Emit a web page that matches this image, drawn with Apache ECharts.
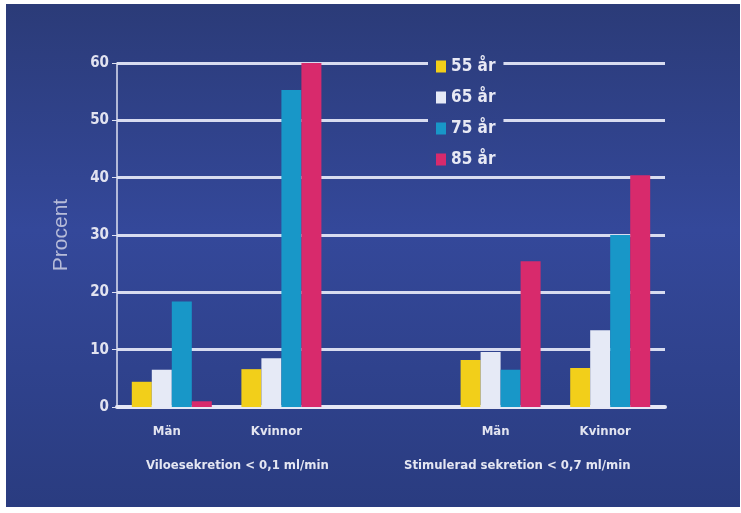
<!DOCTYPE html>
<html>
<head>
    <meta charset="utf-8">
    <title>Procent</title>
    <script src="https://cdn.jsdelivr.net/npm/echarts@6/dist/echarts.min.js"></script>
    <style>
        html, body { margin: 0; padding: 0; background: #ffffff; }
        #chart { width: 741px; height: 513px; }
    </style>
</head>
<body>
<div id="chart"></div>
<script>
    // data
    var categories = ['Män', 'Kvinnor', '', 'Män', 'Kvinnor'];
    var seriesNames = ['55 år', '65 år', '75 år', '85 år'];
    var v55 = [4.4, 6.6, null, 8.2, 6.8];
    var v65 = [6.5, 8.5, null, 9.6, 13.4];
    var v75 = [18.4, 55.3, null, 6.5, 30];
    var v85 = [1, 60, null, 25.4, 40.4];
    var yTicks = [0, 10, 20, 30, 40, 50, 60];
    var groupLabels = ['Viloesekretion < 0,1 ml/min', 'Stimulerad sekretion < 0,7 ml/min'];

    var colors = ['#f2cf1a', '#e6eaf6', '#1897c8', '#d82a6c'];
    var font = '"DejaVu Sans Condensed", "Liberation Sans Narrow", sans-serif';

    var chart = echarts.init(document.getElementById('chart'));

    var allValues = [v55, v65, v75, v85];
    var series = [];
    for (var i = 0; i < seriesNames.length; i++) {
        series.push({
            name: seriesNames[i],
            type: 'bar',
            data: allValues[i],
            barGap: '0%',
            barCategoryGap: '27%',
            itemStyle: { color: colors[i] },
            z: 3
        });
    }

    var option = {
        backgroundColor: '#ffffff',
        animation: false,
        graphic: [
            {
                type: 'rect',
                z: -10,
                shape: { x: 6, y: 4, width: 734, height: 503 },
                style: {
                    fill: {
                        type: 'linear', x: 0, y: 0, x2: 0, y2: 1,
                        colorStops: [
                            { offset: 0, color: '#2b3b78' },
                            { offset: 0.45, color: '#34489a' },
                            { offset: 1, color: '#2a3c80' }
                        ]
                    }
                },
                silent: true
            },
            {
                type: 'text', left: 146, top: 459,
                style: { text: groupLabels[0], fill: '#e4e6f2', font: 'bold 13px ' + font }
            },
            {
                type: 'text', left: 404, top: 459,
                style: { text: groupLabels[1], fill: '#e4e6f2', font: 'bold 13px ' + font }
            }
        ],
        color: colors,
        legend: {
            orient: 'vertical',
            left: 428,
            top: 52,
            padding: [6, 8, 6, 8],
            // matches the backdrop between y=52 and y=170, so the box hides the grid lines
            backgroundColor: {
                type: 'linear', x: 0, y: 0, x2: 0, y2: 1,
                colorStops: [
                    { offset: 0, color: '#2d3e7f' },
                    { offset: 1, color: '#324591' }
                ]
            },
            itemWidth: 10,
            itemHeight: 12,
            itemGap: 14,
            icon: 'rect',
            textStyle: { color: '#e8e9f4', fontSize: 17, fontWeight: 'bold', fontFamily: font },
            data: seriesNames
        },
        grid: { left: 117, right: 76, top: 63, bottom: 106 },
        xAxis: {
            type: 'category',
            data: categories,
            axisLine: { lineStyle: { color: '#e6e8f5', width: 4 } },
            axisTick: { show: false },
            axisLabel: {
                color: '#e2e4f0', fontSize: 13, fontWeight: 'bold', fontFamily: font, margin: 18,
                padding: [0, 10, 0, 0]
            }
        },
        yAxis: {
            type: 'value',
            min: 0,
            max: 60,
            interval: 10,
            name: 'Procent',
            nameLocation: 'middle',
            nameGap: 45,
            nameTextStyle: { color: '#b7bcd9', fontSize: 21, fontFamily: '"Liberation Sans", sans-serif' },
            axisLine: { show: true, lineStyle: { color: '#dfe2f2', width: 1.5 } },
            axisTick: { show: true, length: 5, lineStyle: { color: '#dfe2f2' } },
            axisLabel: {
                color: '#e2e3f0', fontSize: 15, fontWeight: 'bold', fontFamily: font, margin: 8,
                formatter: function (v) { return yTicks.indexOf(v) >= 0 ? String(v) : ''; }
            },
            splitLine: { lineStyle: { color: '#d8dcf0', width: 3 } }
        },
        series: series
    };
    chart.setOption(option);
</script>
</body>
</html>
